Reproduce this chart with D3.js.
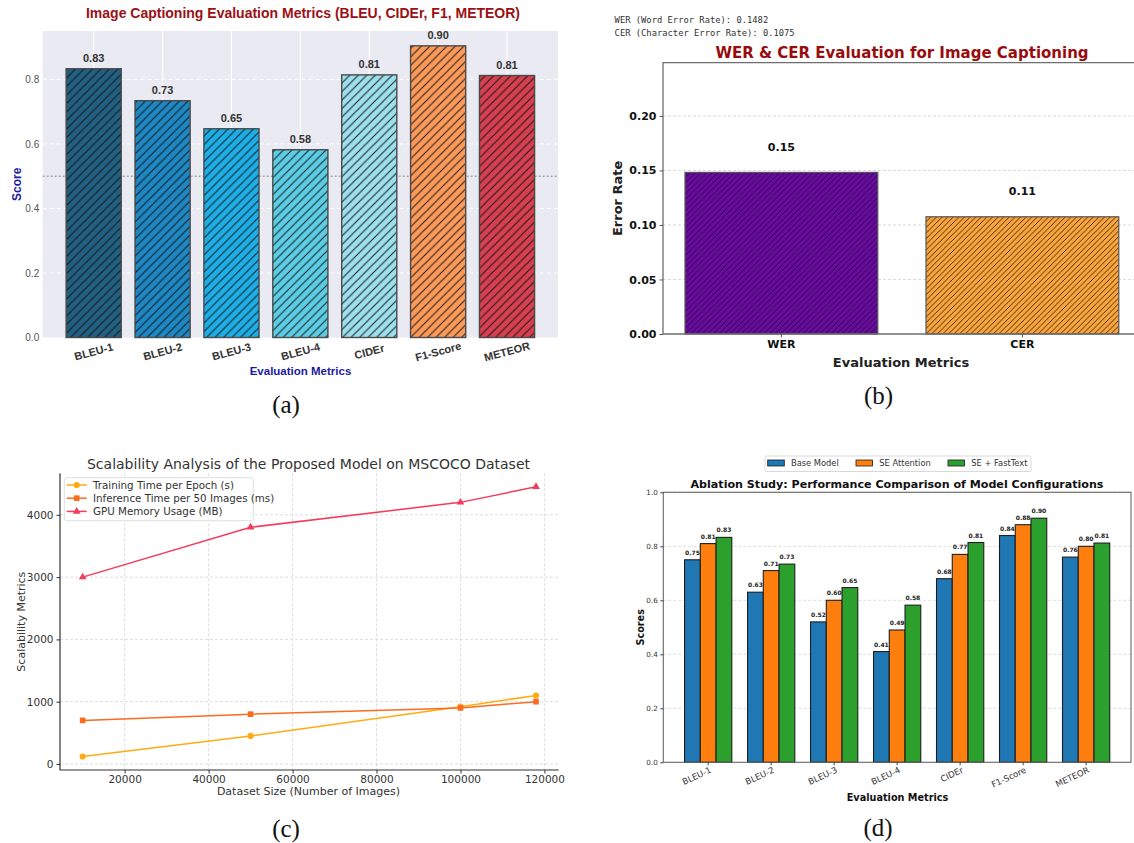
<!DOCTYPE html>
<html><head><meta charset="utf-8">
<script src="https://cdn.jsdelivr.net/npm/d3@7"></script>
<style>body{margin:0;background:#fff}</style>
</head><body><svg id="c" width="1134" height="843" xmlns="http://www.w3.org/2000/svg"></svg>
<script>
// ---------------- DATA ----------------
// (a) Image captioning evaluation metrics
const metricsA = ["BLEU-1","BLEU-2","BLEU-3","BLEU-4","CIDEr","F1-Score","METEOR"];
const scoresA  = [0.833, 0.734, 0.647, 0.582, 0.814, 0.904, 0.812];
const yTicksA  = [0.0, 0.2, 0.4, 0.6, 0.8];

// (b) WER / CER
const metricsB = ["WER","CER"];
const fullNamesB = ["WER (Word Error Rate)","CER (Character Error Rate)"];
const ratesB   = [0.1482, 0.1075];
const yTicksB  = [0.00, 0.05, 0.10, 0.15, 0.20];

// (c) Scalability
const sizesC   = [10000, 50000, 100000, 118000];
const trainC   = [120, 450, 920, 1100];
const inferC   = [700, 800, 900, 1000];
const gpuC     = [3000, 3800, 4200, 4450];
const seriesC  = ["Training Time per Epoch (s)","Inference Time per 50 Images (ms)","GPU Memory Usage (MB)"];
const xTicksC  = [20000, 40000, 60000, 80000, 100000, 120000];
const yTicksC  = [0, 1000, 2000, 3000, 4000];

// (d) Ablation study
const metricsD = ["BLEU-1","BLEU-2","BLEU-3","BLEU-4","CIDEr","F1-Score","METEOR"];
const seriesD  = ["Base Model","SE Attention","SE + FastText"];
const baseD    = [0.75, 0.63, 0.52, 0.41, 0.68, 0.84, 0.76];
const seAttD   = [0.81, 0.71, 0.60, 0.49, 0.77, 0.88, 0.80];
const seFtD    = [0.833, 0.734, 0.647, 0.582, 0.814, 0.904, 0.812];
const yTicksD  = [0.0, 0.2, 0.4, 0.6, 0.8, 1.0];

// ---------------- STYLE ----------------
const colorsA = ["#235f80","#1f87c2","#1eaee6","#5ccde4","#9ddfeb","#fd9a59","#d7404f"];
const colorsB = ["#6a0aa3","#fba53a"];
const colorsC = ["#ffab12","#fb6b20","#f43b5c"];
const colorsD = ["#1f77b4","#ff7f0e","#2ca02c"];
const SANS = "'Liberation Sans', Arial, sans-serif";
const DEJ = "'DejaVu Sans', sans-serif";
const MONO = "'DejaVu Sans Mono', monospace";
const SERIF = "'Liberation Serif', 'Times New Roman', serif";

const svg = d3.select("#c");
svg.append("rect").attr("width",1134).attr("height",843).attr("fill","#fff");
const defs = svg.append("defs");
function hatch(id, s, stroke, sw, op) {
  const p = defs.append("pattern").attr("id", id).attr("patternUnits","userSpaceOnUse")
    .attr("width", s).attr("height", s);
  p.append("path").attr("d", `M0,${s} L${s},0 M-1,1 L1,-1 M${s-1},${s+1} L${s+1},${s-1}`)
    .attr("stroke", stroke).attr("stroke-width", sw).attr("stroke-opacity", op).attr("fill","none");
}
hatch("hA", 8.5, "#0d1418", 1.1, 0.9);
hatch("hB", 5.6, "#111", 0.85, 0.95);

function caption(txt, cx, cy) {
  svg.append("text").attr("x", cx).attr("y", cy).attr("text-anchor","middle")
    .attr("dominant-baseline","central").attr("font-family", SERIF).attr("font-size", 25)
    .attr("fill","#111").text(txt);
}

// ================= PANEL (a) =================
{
  const L = 42.7, R = 558, T = 31, B = 337.5;
  const g = svg.append("g").attr("font-family", SANS);
  g.append("rect").attr("x", L).attr("y", T).attr("width", R-L).attr("height", B-T).attr("fill","#eaeaf2");
  const y = d3.scaleLinear().domain([0, 0.95]).range([B, T]);
  const step = (R-L)/7.48, c0 = L + 0.74*step;
  const x = d3.scaleBand().domain(metricsA).range([c0-step/2, c0-step/2+7*step]).paddingInner(0.2).paddingOuter(0.1);
  const cx = d => x(d) + x.bandwidth()/2;
  // grid
  g.selectAll("line.hg").data(yTicksA.slice(1)).join("line").attr("x1", L).attr("x2", R)
    .attr("y1", d=>y(d)).attr("y2", d=>y(d)).attr("stroke","#fff").attr("stroke-width",1).attr("stroke-dasharray","4,3");
  g.selectAll("line.vg").data(metricsA).join("line").attr("x1", cx).attr("x2", cx)
    .attr("y1", T).attr("y2", B).attr("stroke","#fff").attr("stroke-width",1.1);
  g.append("line").attr("x1", L).attr("x2", R).attr("y1", y(0.5)).attr("y2", y(0.5))
    .attr("stroke","#8a8a8a").attr("stroke-width",1).attr("stroke-dasharray","2,2");
  // bars
  g.selectAll("rect.bar").data(metricsA).join("rect").attr("x", d=>x(d)).attr("width", x.bandwidth())
    .attr("y", (d,i)=>y(scoresA[i])).attr("height", (d,i)=>B - y(scoresA[i])).attr("fill", (d,i)=>colorsA[i]);
  g.selectAll("rect.hat").data(metricsA).join("rect").attr("x", d=>x(d)).attr("width", x.bandwidth())
    .attr("y", (d,i)=>y(scoresA[i])).attr("height", (d,i)=>B - y(scoresA[i])).attr("fill","url(#hA)")
    .attr("stroke","#4a4a4a").attr("stroke-width",1.4);
  // value labels
  g.selectAll("text.val").data(metricsA).join("text").attr("x", cx).attr("y", (d,i)=>y(scoresA[i]) - 7)
    .attr("text-anchor","middle").attr("font-size", 11).attr("font-weight","bold").attr("fill","#333")
    .text((d,i)=>d3.format(".2f")(scoresA[i]));
  // y axis
  const ya = g.append("g").attr("transform", `translate(${L},0)`)
    .call(d3.axisLeft(y).tickValues(yTicksA).tickFormat(d3.format(".1f")).tickSize(0).tickPadding(3.5));
  ya.select(".domain").remove();
  ya.attr("font-family", SANS).attr("font-size", 10).selectAll("text").attr("fill","#555");
  // x axis
  const xa = g.append("g").attr("transform", `translate(0,${B})`).call(d3.axisBottom(x).tickSize(0));
  xa.select(".domain").remove();
  xa.attr("font-family", SANS).attr("font-size", 11);
  xa.selectAll("text").attr("y", 0).attr("dy", null).attr("dominant-baseline","central")
    .attr("transform","translate(0,14) rotate(-15)").attr("font-weight","bold").attr("fill","#333");
  // titles
  g.append("text").attr("x", 303).attr("y", 18).attr("text-anchor","middle").attr("font-size", 14)
    .attr("font-weight","bold").attr("fill","#9a1014").text("Image Captioning Evaluation Metrics (BLEU, CIDEr, F1, METEOR)");
  g.append("text").attr("x", 300.5).attr("y", 371).attr("text-anchor","middle").attr("dominant-baseline","central")
    .attr("font-size", 11.5).attr("font-weight","bold").attr("fill","#1c1ca0").text("Evaluation Metrics");
  g.append("text").attr("transform", `translate(16.5,${(T+B)/2}) rotate(-90)`).attr("text-anchor","middle")
    .attr("dominant-baseline","central").attr("font-size", 12).attr("font-weight","bold").attr("fill","#1c1ca0").text("Score");
  caption("(a)", 286, 404);
}

// ================= PANEL (b) =================
{
  const L = 663, R = 1145, T = 62.7, B = 334;
  const g = svg.append("g").attr("font-family", DEJ);
  const y = d3.scaleLinear().domain([0, 0.2488]).range([B, T]);
  const step = 241, c0 = 781.4;
  const x = d3.scaleBand().domain(metricsB).range([c0-step/2, c0-step/2+2*step]).paddingInner(0.2).paddingOuter(0.1);
  const cx = d => x(d) + x.bandwidth()/2;
  // info lines
  g.selectAll("text.info").data(metricsB).join("text").attr("x", 614.6).attr("y", (d,i)=>20 + i*13)
    .attr("dominant-baseline","central").attr("font-family", MONO).attr("font-size", 8.8).attr("fill","#333")
    .text((d,i)=>`${fullNamesB[i]}: ${d3.format(".4f")(ratesB[i])}`);
  // grid
  g.selectAll("line.hg").data(yTicksB.slice(1)).join("line").attr("x1", L).attr("x2", R)
    .attr("y1", d=>y(d)).attr("y2", d=>y(d)).attr("stroke","#cfcfcf").attr("stroke-width",0.8).attr("stroke-dasharray","3,2");
  // bars
  g.selectAll("rect.bar").data(metricsB).join("rect").attr("x", d=>x(d)).attr("width", x.bandwidth())
    .attr("y", (d,i)=>y(ratesB[i])).attr("height", (d,i)=>B - y(ratesB[i])).attr("fill", (d,i)=>colorsB[i]);
  g.selectAll("rect.hat").data(metricsB).join("rect").attr("x", d=>x(d)).attr("width", x.bandwidth())
    .attr("y", (d,i)=>y(ratesB[i])).attr("height", (d,i)=>B - y(ratesB[i])).attr("fill","url(#hB)")
    .attr("stroke","#555").attr("stroke-width",1.2);
  g.selectAll("text.val").data(metricsB).join("text").attr("x", cx).attr("y", (d,i)=>y(ratesB[i] + 0.02))
    .attr("text-anchor","middle").attr("font-size", 11).attr("font-weight","bold").attr("fill","#111")
    .text((d,i)=>d3.format(".2f")(ratesB[i]));
  // spines
  g.append("path").attr("d", `M${R},${T} L${L},${T} L${L},${B} L${R},${B}`).attr("fill","none")
    .attr("stroke","#6e6e6e").attr("stroke-width",1.3);
  // axes
  const ya = g.append("g").attr("transform", `translate(${L},0)`)
    .call(d3.axisLeft(y).tickValues(yTicksB).tickFormat(d3.format(".2f")).tickSize(3.5).tickPadding(3));
  ya.select(".domain").remove();
  ya.attr("font-family", DEJ).attr("font-size", 11);
  ya.selectAll("text").attr("font-weight","bold").attr("fill","#111");
  ya.selectAll("line").attr("stroke","#555");
  const xa = g.append("g").attr("transform", `translate(0,${B})`)
    .call(d3.axisBottom(x).tickSize(3.5).tickPadding(3));
  xa.select(".domain").remove();
  xa.attr("font-family", DEJ).attr("font-size", 11);
  xa.selectAll("text").attr("font-weight","bold").attr("fill","#111");
  xa.selectAll("line").attr("stroke","#555");
  // titles
  g.append("text").attr("x", 902).attr("y", 53).attr("dominant-baseline","central").attr("text-anchor","middle")
    .attr("font-size", 15).attr("font-weight","bold").attr("fill","#980c0e").text("WER & CER Evaluation for Image Captioning");
  g.append("text").attr("x", 901).attr("y", 362).attr("dominant-baseline","central").attr("text-anchor","middle")
    .attr("font-size", 13).attr("font-weight","bold").attr("fill","#222").text("Evaluation Metrics");
  g.append("text").attr("transform", `translate(617,${(T+B)/2}) rotate(-90)`).attr("dominant-baseline","central")
    .attr("text-anchor","middle").attr("font-size", 13).attr("font-weight","bold").attr("fill","#222").text("Error Rate");
  caption("(b)", 878.6, 395);
}

// ================= PANEL (c) =================
{
  const L = 60, R = 558.7, T = 473.3, B = 770;
  const g = svg.append("g").attr("font-family", DEJ);
  const allY = trainC.concat(inferC, gpuC);
  const ymn = d3.min(allY), ymx = d3.max(allY), yp = (ymx-ymn)*0.05;
  const y = d3.scaleLinear().domain([ymn-yp, ymx+yp]).range([B, T]);
  const xmn = d3.min(sizesC), xmx = d3.max(sizesC), xp = (xmx-xmn)*0.05;
  const x = d3.scaleLinear().domain([xmn-xp, xmx+xp]).range([L, R]);
  // grid
  g.selectAll("line.vg").data(xTicksC).join("line").attr("x1", d=>x(d)).attr("x2", d=>x(d)).attr("y1", T).attr("y2", B)
    .attr("stroke","#d4d4d4").attr("stroke-width",0.8).attr("stroke-dasharray","3,2");
  g.selectAll("line.hg").data(yTicksC).join("line").attr("x1", L).attr("x2", R).attr("y1", d=>y(d)).attr("y2", d=>y(d))
    .attr("stroke","#d4d4d4").attr("stroke-width",0.8).attr("stroke-dasharray","3,2");
  // spines
  g.append("path").attr("d", `M${L},${T} L${L},${B} L${R},${B}`).attr("fill","none").attr("stroke","#333").attr("stroke-width",1.2);
  // axes
  const ya = g.append("g").attr("transform", `translate(${L},0)`)
    .call(d3.axisLeft(y).tickValues(yTicksC).tickFormat(d3.format("d")).tickSize(3.5).tickPadding(3));
  ya.select(".domain").remove();
  ya.attr("font-family", DEJ).attr("font-size", 10.5);
  ya.selectAll("text").attr("fill","#333"); ya.selectAll("line").attr("stroke","#333");
  const xa = g.append("g").attr("transform", `translate(0,${B})`)
    .call(d3.axisBottom(x).tickValues(xTicksC).tickFormat(d3.format("d")).tickSize(3.5).tickPadding(2));
  xa.select(".domain").remove();
  xa.attr("font-family", DEJ).attr("font-size", 10.5);
  xa.selectAll("text").attr("fill","#333"); xa.selectAll("line").attr("stroke","#333");
  // lines
  const data = [trainC, inferC, gpuC];
  const shapes = [d3.symbolCircle, d3.symbolSquare, d3.symbolTriangle];
  const symSizes = [30, 32, 26];
  const line = d3.line().x((d,i)=>x(sizesC[i])).y(d=>y(d));
  data.forEach((vals, k) => {
    g.append("path").attr("d", line(vals)).attr("fill","none").attr("stroke", colorsC[k]).attr("stroke-width",1.5);
    g.selectAll(null).data(vals).join("path")
      .attr("transform", (d,i)=>`translate(${x(sizesC[i])},${y(d)})`)
      .attr("d", d3.symbol(shapes[k], symSizes[k])).attr("fill", colorsC[k]);
  });
  // legend
  const lg = g.append("g");
  lg.append("rect").attr("x", 64.3).attr("y", 477.7).attr("width", 189).attr("height", 43).attr("rx", 2.5)
    .attr("fill","#fff").attr("fill-opacity",0.85).attr("stroke","#d6d6d6").attr("stroke-width",0.8);
  seriesC.forEach((name, k) => {
    const yy = 485 + k*13.2;
    lg.append("line").attr("x1", 66.7).attr("x2", 86.7).attr("y1", yy).attr("y2", yy).attr("stroke", colorsC[k]).attr("stroke-width",1.5);
    lg.append("path").attr("transform", `translate(76.7,${yy})`).attr("d", d3.symbol(shapes[k], symSizes[k])).attr("fill", colorsC[k]);
    lg.append("text").attr("x", 93).attr("y", yy).attr("dominant-baseline","central").attr("font-size", 10.3)
      .attr("fill","#333").text(name);
  });
  // titles
  g.append("text").attr("x", 308.5).attr("y", 463.5).attr("dominant-baseline","central").attr("text-anchor","middle")
    .attr("font-size", 14).attr("fill","#333").text("Scalability Analysis of the Proposed Model on MSCOCO Dataset");
  g.append("text").attr("x", 308.5).attr("y", 791.5).attr("dominant-baseline","central").attr("text-anchor","middle")
    .attr("font-size", 11).attr("fill","#333").text("Dataset Size (Number of Images)");
  g.append("text").attr("transform", `translate(21,${(T+B)/2}) rotate(-90)`).attr("dominant-baseline","central")
    .attr("text-anchor","middle").attr("font-size", 11).attr("fill","#333").text("Scalability Metrics");
  caption("(c)", 286, 828);
}

// ================= PANEL (d) =================
{
  const L = 663.3, R = 1131, T = 492.3, B = 762.3;
  const g = svg.append("g").attr("font-family", DEJ);
  const y = d3.scaleLinear().domain([0, 1]).range([B, T]);
  const step = (R-L)/7.425, c0 = L + 0.7125*step;
  const x0 = d3.scaleBand().domain(metricsD).range([c0-step/2, c0-step/2+7*step]);
  const x1 = d3.scaleBand().domain(seriesD).range([step*0.125, step*0.875]);
  const vals = [baseD, seAttD, seFtD];
  // grid
  g.selectAll("line.hg").data(yTicksD.slice(1)).join("line").attr("x1", L).attr("x2", R).attr("y1", d=>y(d)).attr("y2", d=>y(d))
    .attr("stroke","#cfcfcf").attr("stroke-width",0.7).attr("stroke-dasharray","3,2");
  // bars
  seriesD.forEach((s, k) => {
    g.selectAll(null).data(metricsD).join("rect")
      .attr("x", d=>x0(d)+x1(s)).attr("width", x1.bandwidth())
      .attr("y", (d,i)=>y(vals[k][i])).attr("height", (d,i)=>B - y(vals[k][i]))
      .attr("fill", colorsD[k]).attr("stroke","#1e1e1e").attr("stroke-width",1.1);
    g.selectAll(null).data(metricsD).join("text")
      .attr("x", d=>x0(d)+x1(s)+x1.bandwidth()/2).attr("y", (d,i)=>y(vals[k][i]) - 5)
      .attr("text-anchor","middle").attr("font-size", 6).attr("font-weight","bold").attr("fill","#222")
      .text((d,i)=>d3.format(".2f")(vals[k][i]));
  });
  // spines
  g.append("rect").attr("x", L).attr("y", T).attr("width", R-L).attr("height", B-T).attr("fill","none")
    .attr("stroke","#666").attr("stroke-width",1.1);
  // axes
  const ya = g.append("g").attr("transform", `translate(${L},0)`)
    .call(d3.axisLeft(y).tickValues(yTicksD).tickFormat(d3.format(".1f")).tickSize(3).tickPadding(2.5));
  ya.select(".domain").remove();
  ya.attr("font-family", DEJ).attr("font-size", 7.2);
  ya.selectAll("text").attr("fill","#333"); ya.selectAll("line").attr("stroke","#444");
  const xa = g.append("g").attr("transform", `translate(0,${B})`)
    .call(d3.axisBottom(x0).tickSize(3).tickPadding(2));
  xa.select(".domain").remove();
  xa.attr("font-family", DEJ).attr("font-size", 8.5);
  xa.selectAll("line").attr("stroke","#444");
  xa.selectAll("text").attr("y", 0).attr("dy","0.75em").attr("text-anchor","end").attr("fill","#333")
    .attr("transform","translate(1,4) rotate(-25)");
  // legend
  const lg = g.append("g");
  lg.append("rect").attr("x", 765).attr("y", 456).attr("width", 266).attr("height", 15.5).attr("rx", 1.5)
    .attr("fill","#fff").attr("stroke","#cfcfcf").attr("stroke-width",0.8);
  const legX = [767.7, 856, 948];
  seriesD.forEach((s, k) => {
    lg.append("rect").attr("x", legX[k]).attr("y", 460).attr("width", 16.6).attr("height", 6)
      .attr("fill", colorsD[k]).attr("stroke","#1e1e1e").attr("stroke-width",0.8);
    lg.append("text").attr("x", legX[k] + 23.3).attr("y", 463.2).attr("dominant-baseline","central")
      .attr("font-size", 8.3).attr("fill","#333").text(s);
  });
  // titles
  g.append("text").attr("x", 897).attr("y", 484.3).attr("dominant-baseline","central").attr("text-anchor","middle")
    .attr("font-size", 11.1).attr("font-weight","bold").attr("fill","#111").text("Ablation Study: Performance Comparison of Model Configurations");
  g.append("text").attr("x", 897.5).attr("y", 797.7).attr("dominant-baseline","central").attr("text-anchor","middle")
    .attr("font-size", 9.7).attr("font-weight","bold").attr("fill","#111").text("Evaluation Metrics");
  g.append("text").attr("transform", `translate(640,${(T+B)/2}) rotate(-90)`).attr("dominant-baseline","central")
    .attr("text-anchor","middle").attr("font-size", 9.7).attr("font-weight","bold").attr("fill","#111").text("Scores");
  caption("(d)", 878, 827);
}
</script>
</body></html>
